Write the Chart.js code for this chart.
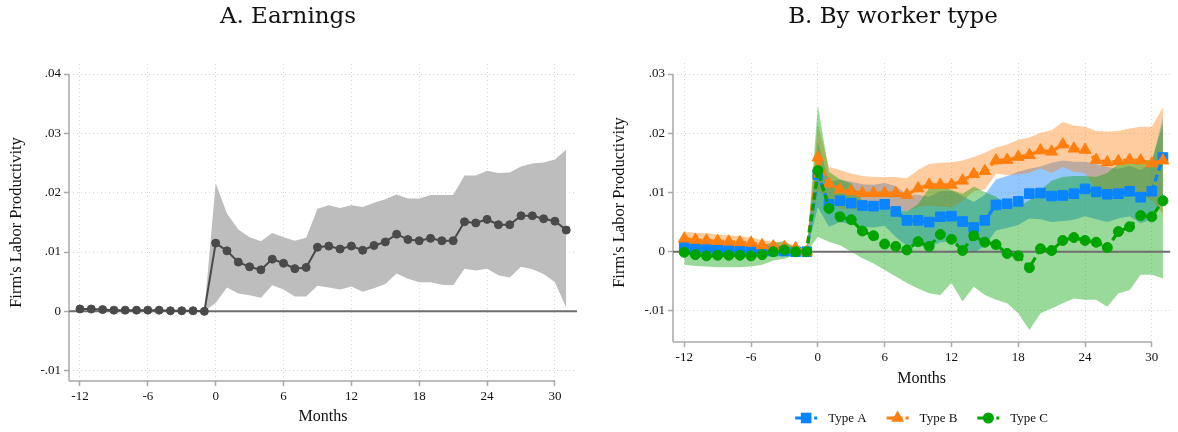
<!DOCTYPE html>
<html>
<head>
<meta charset="utf-8">
<script src="https://cdn.jsdelivr.net/npm/chart.js@4.4.1/dist/chart.umd.min.js"></script>
<style>
  html, body { margin: 0; padding: 0; background: #fff; }
  #wrap { position: relative; width: 1178px; height: 432px; overflow: hidden; }
  #c1 { position: absolute; left: 0; top: 0; }
  #c2 { position: absolute; left: 600px; top: 0; }
</style>
</head>
<body>
<div id="wrap">
  <canvas id="c1" width="600" height="432"></canvas>
  <canvas id="c2" width="578" height="432"></canvas>
</div>
<script>
// Event time in months relative to the event (month -1 is the reference month)
const months = [-12,-11,-10,-9,-8,-7,-6,-5,-4,-3,-2,-1,0,1,2,3,4,5,6,7,8,9,10,11,12,13,14,15,16,17,18,19,20,21,22,23,24,25,26,27,28,29,30,31];
const monthTicks = [-12,-6,0,6,12,18,24,30];
const monthTickLabels = ['-12','-6','0','6','12','18','24','30'];

const yTicksA = [-0.01,0,0.01,0.02,0.03,0.04];
const yTickLabelsA = ['-.01','0','.01','.02','.03','.04'];
const yTicksB = [-0.01,0,0.01,0.02,0.03];
const yTickLabelsB = ['-.01','0','.01','.02','.03'];

const legendOrder = ['Type A','Type B','Type C'];

// Panel A: earnings, point estimates and 95% bands
const earnings = [0.0004,0.0004,0.0003,0.0002,0.0002,0.0002,0.0002,0.0002,0.0001,0.0001,0.0001,0.0000,
  0.0115,0.0102,0.0083,0.0075,0.0070,0.0088,0.0081,0.0072,0.0074,0.0108,0.0110,0.0105,0.0110,0.0103,0.0111,0.0117,
  0.0130,0.0121,0.0119,0.0123,0.0119,0.0119,0.0151,0.0149,0.0155,0.0146,0.0146,0.0161,0.0161,0.0156,0.0152,0.0137];
const earningsHi = [null,null,null,null,null,null,null,null,null,null,null,0,
  0.0216,0.0165,0.0138,0.0125,0.0118,0.0132,0.0125,0.0119,0.0124,0.0173,0.0179,0.0174,0.0179,0.0176,0.0183,0.0189,
  0.0197,0.0190,0.0190,0.0196,0.0196,0.0196,0.0229,0.0229,0.0237,0.0233,0.0234,0.0244,0.0249,0.0251,0.0256,0.0273];
const earningsLo = [null,null,null,null,null,null,null,null,null,null,null,0,
  0.0014,0.0040,0.0030,0.0027,0.0023,0.0044,0.0037,0.0025,0.0025,0.0043,0.0040,0.0037,0.0042,0.0033,0.0039,0.0046,
  0.0064,0.0055,0.0049,0.0049,0.0045,0.0044,0.0072,0.0069,0.0072,0.0061,0.0057,0.0075,0.0071,0.0063,0.0049,0.0006];

// Panel B: by worker type
const typeA = [0.0009,0.0007,0.0006,0.0004,0.0003,0.0002,0.0001,0.0001,0.0001,0.0001,0.0000,0.0000,
  0.0130,0.0080,0.0086,0.0082,0.0078,0.0077,0.0080,0.0068,0.0053,0.0053,0.0050,0.0059,0.0060,0.0051,0.0041,0.0053,
  0.0079,0.0081,0.0085,0.0098,0.0099,0.0094,0.0095,0.0098,0.0106,0.0101,0.0097,0.0098,0.0102,0.0092,0.0102,0.0159];
const typeAHi = [0.0017,0.0015,0.0014,0.0012,0.0011,0.0010,0.0009,0.0008,0.0007,0.0006,0.0004,0,
  0.0185,0.0118,0.0122,0.0118,0.0114,0.0113,0.0116,0.0111,0.0096,0.0096,0.0093,0.0102,0.0103,0.0094,0.0084,0.0096,
  0.0122,0.0128,0.0135,0.0140,0.0144,0.0150,0.0154,0.0152,0.0152,0.0148,0.0143,0.0140,0.0145,0.0138,0.0150,0.0228];
const typeALo = [0.0001,-0.0001,-0.0002,-0.0004,-0.0005,-0.0006,-0.0007,-0.0006,-0.0005,-0.0004,-0.0004,0,
  0.0075,0.0042,0.0050,0.0046,0.0042,0.0041,0.0044,0.0025,0.0010,0.0010,0.0007,0.0016,0.0017,0.0008,-0.0002,0.0010,
  0.0036,0.0040,0.0045,0.0056,0.0055,0.0050,0.0052,0.0054,0.0060,0.0055,0.0050,0.0056,0.0060,0.0048,0.0055,0.0090];

const typeB = [0.0022,0.0020,0.0019,0.0018,0.0017,0.0016,0.0015,0.0011,0.0009,0.0008,0.0006,0.0000,
  0.0159,0.0115,0.0105,0.0102,0.0099,0.0099,0.0099,0.0099,0.0096,0.0107,0.0113,0.0113,0.0113,0.0120,0.0131,0.0136,
  0.0154,0.0155,0.0160,0.0163,0.0171,0.0169,0.0181,0.0174,0.0172,0.0155,0.0151,0.0153,0.0155,0.0154,0.0149,0.0154];
const typeBHi = [0.0034,0.0032,0.0031,0.0029,0.0028,0.0026,0.0024,0.0020,0.0017,0.0015,0.0011,0,
  0.0215,0.0143,0.0138,0.0132,0.0128,0.0126,0.0126,0.0126,0.0124,0.0138,0.0148,0.0150,0.0151,0.0154,0.0160,0.0167,
  0.0176,0.0181,0.0189,0.0193,0.0201,0.0205,0.0219,0.0213,0.0211,0.0204,0.0203,0.0204,0.0208,0.0211,0.0211,0.0244];
const typeBLo = [0.0010,0.0008,0.0007,0.0007,0.0006,0.0006,0.0006,0.0002,0.0001,0.0001,0.0001,0,
  0.0103,0.0087,0.0072,0.0072,0.0070,0.0072,0.0072,0.0072,0.0068,0.0076,0.0078,0.0076,0.0075,0.0086,0.0102,0.0105,
  0.0132,0.0129,0.0131,0.0133,0.0141,0.0133,0.0143,0.0135,0.0133,0.0106,0.0099,0.0102,0.0102,0.0097,0.0087,0.0064];

const typeC = [-0.0001,-0.0005,-0.0007,-0.0006,-0.0006,-0.0006,-0.0007,-0.0005,0.0000,0.0003,0.0000,0.0000,
  0.0137,0.0073,0.0059,0.0054,0.0035,0.0027,0.0013,0.0009,0.0003,0.0017,0.0009,0.0029,0.0021,0.0002,0.0027,0.0016,
  0.0012,-0.0003,-0.0007,-0.0027,0.0005,0.0002,0.0019,0.0024,0.0019,0.0016,0.0007,0.0034,0.0042,0.0061,0.0059,0.0086];
const typeCHi = [0.0020,0.0014,0.0011,0.0014,0.0014,0.0014,0.0011,0.0012,0.0015,0.0018,0.0006,0,
  0.0247,0.0135,0.0122,0.0115,0.0085,0.0075,0.0072,0.0070,0.0068,0.0080,0.0107,0.0112,0.0104,0.0098,0.0110,0.0101,
  0.0093,0.0081,0.0076,0.0087,0.0104,0.0120,0.0126,0.0128,0.0128,0.0126,0.0133,0.0149,0.0155,0.0155,0.0155,0.0216];
const typeCLo = [-0.0022,-0.0024,-0.0025,-0.0026,-0.0026,-0.0026,-0.0025,-0.0022,-0.0015,-0.0012,-0.0006,0,
  0.0025,0.0017,0.0011,0.0000,-0.0011,-0.0020,-0.0031,-0.0042,-0.0053,-0.0062,-0.0070,-0.0073,-0.0053,-0.0084,-0.0059,-0.0073,
  -0.0081,-0.0087,-0.0104,-0.0132,-0.0104,-0.0096,-0.0087,-0.0079,-0.0081,-0.0081,-0.0093,-0.0070,-0.0065,-0.0039,-0.0039,-0.0045];

// ---------------------------------------------------------------------------
const SERIF = '"Liberation Serif", "Times New Roman", serif';
Chart.defaults.font.family = SERIF;
Chart.defaults.color = '#111';

const BLUE = '#0a84ff', ORANGE = '#ff7f0e', GREEN = '#00a400', DARK = '#4a4a4a';
const AXIS_GRAY = '#a9a9a9';

const pts = vals => months.map((m, i) => ({ x: m, y: vals[i] }));

function band(hi, lo, color, order, extra) {
  return [
    Object.assign({ data: pts(hi), fill: '+1', backgroundColor: color, borderColor: 'rgba(0,0,0,0)',
      borderWidth: 0, pointRadius: 0, order }, extra || {}),
    { data: pts(lo), fill: false, borderColor: 'rgba(0,0,0,0)', borderWidth: 0, pointRadius: 0, order }
  ];
}

function drawMarker(ctx, style, x, y, r, color) {
  ctx.save();
  ctx.fillStyle = color;
  ctx.beginPath();
  if (style === 'rect') {
    const s = r * Math.SQRT1_2 + 0.5;
    ctx.rect(x - s, y - s, 2 * s, 2 * s);
  } else if (style === 'triangle') {
    let a = 0;
    const R = r + 0.6;
    ctx.moveTo(x + Math.sin(a) * R, y - Math.cos(a) * R);
    a += 2 * Math.PI / 3;
    ctx.lineTo(x + Math.sin(a) * R, y - Math.cos(a) * R);
    a += 2 * Math.PI / 3;
    ctx.lineTo(x + Math.sin(a) * R, y - Math.cos(a) * R);
    ctx.closePath();
  } else {
    ctx.arc(x, y, r + 0.5, 0, Math.PI * 2);
  }
  ctx.fill();
  ctx.restore();
}

// Axis lines, zero reference line, panel title and (panel B) legend
const panelDecor = {
  id: 'panelDecor',
  beforeDatasetsDraw(chart, args, opts) {
    const { ctx, chartArea: a, scales: { x, y } } = chart;
    ctx.save();
    ctx.strokeStyle = AXIS_GRAY;
    ctx.lineWidth = 1.5;
    ctx.beginPath();
    ctx.moveTo(a.left, y.getPixelForValue(opts.yTop));
    ctx.lineTo(a.left, a.bottom);
    ctx.moveTo(a.left, a.bottom);
    ctx.lineTo(x.getPixelForValue(opts.xEnd), a.bottom);
    ctx.stroke();
    ctx.restore();
  },
  afterDatasetDraw(chart, args) {
    const ds = chart.data.datasets[args.index];
    if (!ds.zeroAfter) return;
    const { ctx, chartArea: a, scales: { y } } = chart;
    const y0 = y.getPixelForValue(0);
    ctx.save();
    ctx.strokeStyle = '#6e6e6e';
    ctx.lineWidth = 2;
    ctx.beginPath();
    ctx.moveTo(a.left, y0);
    ctx.lineTo(a.right, y0);
    ctx.stroke();
    ctx.restore();
  },
  afterDraw(chart, args, opts) {
    const { ctx, chartArea: a } = chart;
    ctx.save();
    ctx.font = '23px "DejaVu Serif", serif';
    ctx.fillStyle = '#111';
    ctx.textAlign = 'center';
    ctx.textBaseline = 'alphabetic';
    ctx.fillText(opts.title, opts.titleX, 23);

    if (opts.legend) {
      const items = chart.data.datasets
        .filter(d => d.legendLabel)
        .sort((p, q) => legendOrder.indexOf(p.legendLabel) - legendOrder.indexOf(q.legendLabel));
      ctx.font = '13px ' + SERIF;
      const symW = 22, gap = 11, spacing = 20;
      const widths = items.map(d => symW + gap + ctx.measureText(d.legendLabel).width);
      const total = widths.reduce((s, w) => s + w, 0) + spacing * (items.length - 1);
      let sx = (a.left + a.right) / 2 - total / 2;
      const ly = opts.legendY;
      items.forEach((d, i) => {
        ctx.save();
        ctx.strokeStyle = d.borderColor;
        ctx.lineWidth = 3;
        ctx.setLineDash([16, 3]);
        ctx.beginPath();
        ctx.moveTo(sx, ly);
        ctx.lineTo(sx + symW, ly);
        ctx.stroke();
        ctx.restore();
        drawMarker(ctx, d.pointStyle, sx + symW / 2, ly, d.pointRadius, d.borderColor);
        ctx.fillStyle = '#111';
        ctx.textAlign = 'left';
        ctx.textBaseline = 'middle';
        ctx.fillText(d.legendLabel, sx + symW + gap, ly + 0.5);
        sx += widths[i] + spacing;
      });
    }
    ctx.restore();
  }
};

function xScale(min, max, height, titlePad) {
  return {
    type: 'linear', min, max,
    afterBuildTicks: s => { s.ticks = monthTicks.map(v => ({ value: v })); },
    afterFit: s => { s.height = height; },
    ticks: { autoSkip: false, maxRotation: 0, minRotation: 0, padding: 3, font: { size: 13 }, color: '#111',
      callback: (v, i) => monthTickLabels[i] },
    grid: { color: '#d6d6d6', lineWidth: 1, drawTicks: true, tickLength: 5, tickColor: AXIS_GRAY, tickWidth: 1.5 },
    border: { display: false, dash: [1, 3] },
    title: { display: true, text: 'Months', font: { size: 16 }, color: '#111', padding: { top: 0, bottom: titlePad } }
  };
}

function yScale(min, max, width, tickVals, tickLabels, titlePad) {
  return {
    type: 'linear', min, max,
    afterBuildTicks: s => { s.ticks = tickVals.map(v => ({ value: v })); },
    afterFit: s => { s.width = width; },
    ticks: { autoSkip: false, padding: 3, font: { size: 13 }, color: '#111',
      callback: (v, i) => tickLabels[i] },
    grid: { color: '#d6d6d6', lineWidth: 1, drawTicks: true, tickLength: 5, tickColor: AXIS_GRAY, tickWidth: 1.5 },
    border: { display: false, dash: [1, 3] },
    title: { display: true, text: "Firm's Labor Productivity", font: { size: 16.5 }, color: '#111',
      padding: { top: titlePad, bottom: 0 } }
  };
}

const common = {
  responsive: false,
  animation: false,
  events: [],
  elements: { line: { tension: 0 } },
};

// Panel A
new Chart(document.getElementById('c1'), {
  type: 'line',
  data: {
    datasets: [
      {
        data: pts(earnings), borderColor: DARK, borderWidth: 2, pointStyle: 'circle', pointRadius: 4,
        pointBackgroundColor: DARK, pointBorderColor: DARK, pointBorderWidth: 1, fill: false, order: 1
      },
      ...band(earningsHi, earningsLo, '#bdbdbd', 2, { zeroAfter: true })
    ]
  },
  options: Object.assign({}, common, {
    layout: { padding: { top: 64, left: 0, right: 23, bottom: 0 } },
    scales: {
      x: xScale(-12.97, 31.95, 51, 5.4),
      y: yScale(-0.01174, 0.04169, 69, yTicksA, yTickLabelsA, 7.2)
    },
    plugins: {
      legend: { display: false }, tooltip: { enabled: false },
      panelDecor: { title: 'A. Earnings', titleX: 288, yTop: 0.04, xEnd: 30 }
    }
  }),
  plugins: [panelDecor]
});

// Panel B
new Chart(document.getElementById('c2'), {
  type: 'line',
  data: {
    datasets: [
      {
        data: pts(typeC), borderColor: GREEN, borderWidth: 3.2, borderDash: [7, 4], pointStyle: 'circle', pointRadius: 5,
        pointBackgroundColor: GREEN, pointBorderColor: GREEN, pointBorderWidth: 1, fill: false, order: 1, legendLabel: 'Type C'
      },
      {
        data: pts(typeB), borderColor: ORANGE, borderWidth: 3.2, borderDash: [7, 4], pointStyle: 'triangle', pointRadius: 6.8,
        pointBackgroundColor: ORANGE, pointBorderColor: ORANGE, pointBorderWidth: 1, fill: false, order: 2, legendLabel: 'Type B'
      },
      {
        data: pts(typeA), borderColor: BLUE, borderWidth: 3.2, borderDash: [7, 4], pointStyle: 'rect', pointRadius: 6.8,
        pointBackgroundColor: BLUE, pointBorderColor: BLUE, pointBorderWidth: 1, fill: false, order: 3, legendLabel: 'Type A'
      },
      ...band(typeCHi, typeCLo, 'rgba(0,160,0,0.4)', 4, { zeroAfter: true }),
      ...band(typeBHi, typeBLo, 'rgba(255,127,14,0.4)', 5),
      ...band(typeAHi, typeALo, 'rgba(20,130,255,0.45)', 6)
    ]
  },
  options: Object.assign({}, common, {
    layout: { padding: { top: 63, left: 0, right: 0, bottom: 30 } },
    scales: {
      x: xScale(-13.01, 31.65, 60, 13.4),
      y: yScale(-0.01524, 0.03186, 73, yTicksB, yTickLabelsB, 10.2)
    },
    plugins: {
      legend: { display: false }, tooltip: { enabled: false },
      panelDecor: { title: 'B. By worker type', titleX: 293, yTop: 0.03, xEnd: 30, legend: true, legendY: 418 }
    }
  }),
  plugins: [panelDecor]
});
</script>
</body>
</html>
